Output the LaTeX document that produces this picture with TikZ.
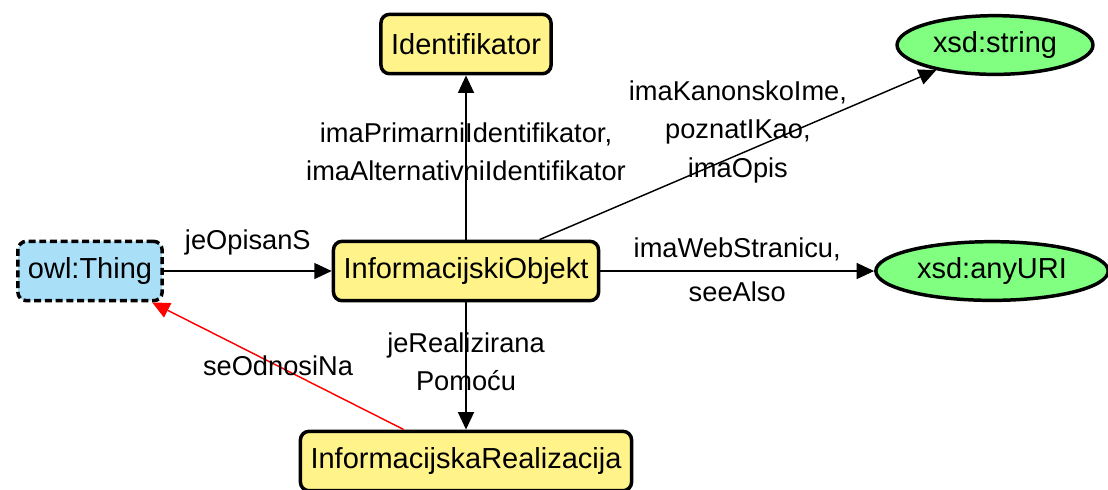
\documentclass[tikz,border=0pt]{standalone}
\usepackage{fontspec}
\setmainfont{Liberation Sans}
\usetikzlibrary{arrows.meta,shapes.geometric}

\definecolor{clsyellow}{HTML}{FFF38A}
\definecolor{thingblue}{HTML}{A9DFF7}
\definecolor{litgreen}{HTML}{80FF80}

\begin{document}
\begin{tikzpicture}[
    x=0.345pt, y=-0.345pt,
    font=\fontsize{10}{13.2}\selectfont,
    cls/.style={draw, line width=1.2pt, rectangle, rounded corners=3pt, fill=clsyellow, minimum height=20.5pt, inner xsep=3.5pt},
    thing/.style={draw, line width=1.2pt, dash pattern=on 2.4pt off 1.3pt, rectangle, rounded corners=3pt, fill=thingblue, minimum height=20.5pt, inner xsep=3.5pt},
    lit/.style={draw, line width=1.2pt, ellipse, fill=litgreen, inner xsep=2.5pt, inner ysep=2.5pt},
    arrow/.style={-{Triangle[length=6pt, width=5.5pt]}, line width=0.5pt},
    lbl/.style={align=center, font=\fontsize{9.4}{13.3}\selectfont}
]
    \useasboundingbox (0,0) rectangle (1108,489);

    % Classes
    \node[cls] (objekt) at (466,271) {InformacijskiObjekt};
    \node[cls] (ident) at (466,44) {Identifikator};
    \node[cls] (realiz) at (466,461) {InformacijskaRealizacija};
    \node[thing] (thing) at (90,271) {owl:Thing};

    % Literals
    \node[lit] (string) at (995,45) {xsd:string};
    \node[lit] (anyuri) at (992,271) {xsd:anyURI};

    % Properties
    \draw[arrow] (thing) -- (objekt) node[midway, lbl, above=2pt] {jeOpisanS};
    \draw[arrow] (objekt) -- (ident)
        node[midway, lbl, yshift=2pt] {imaPrimarniIdentifikator,\\imaAlternativniIdentifikator};
    \draw[arrow] (objekt) -- (string)
        node[midway, lbl, yshift=8pt] {imaKanonskoIme,\\poznatIKao,\\imaOpis};
    \draw[arrow] (objekt) -- (anyuri)
        node[midway, lbl, above] {imaWebStranicu,}
        node[midway, lbl, below] {seeAlso};
    \draw[arrow] (objekt) -- (realiz)
        node[midway, lbl, yshift=1.5pt] {jeRealizirana\\Pomoću};
    \draw[arrow, red] (realiz) -- (thing) node[midway, lbl, text=black] {seOdnosiNa};
\end{tikzpicture}
\end{document}
